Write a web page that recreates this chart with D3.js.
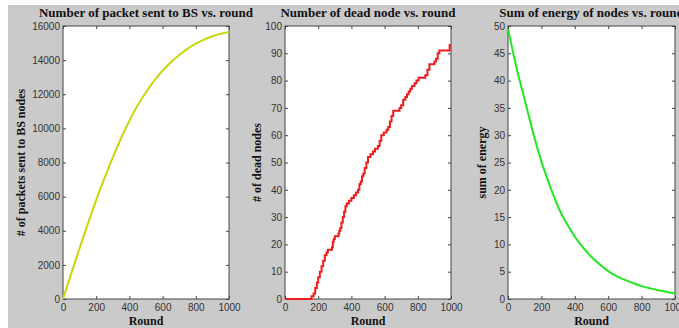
<!DOCTYPE html>
<html>
<head>
<meta charset="utf-8">
<script src="https://cdn.jsdelivr.net/npm/d3@7"></script>
<style>
  body { margin: 0; background: #fff; }
  .tick text { font-family: "Liberation Sans", Arial, sans-serif; font-size: 10px; fill: #333; }
  .domain { display: none; }
  .tick line { stroke: #444; }
  .ttl, .lbl { font-family: "Liberation Serif", serif; font-weight: bold; fill: #111; }
</style>
</head>
<body>
<div id="chart"></div>
<script>
// rounds sampled for the two smooth curves
var rounds = [0, 50, 100, 150, 200, 250, 300, 350, 400, 450, 500,
              550, 600, 650, 700, 750, 800, 850, 900, 950, 1000];

var packets = [0, 1500, 2980, 4420, 5800, 7080, 8300, 9420, 10450, 11350, 12120,
               12800, 13380, 13880, 14300, 14660, 14960, 15200, 15400, 15550, 15650];

var energy = [49.5, 42.5, 36.5, 30.5, 25.2, 20.8, 16.9, 13.9, 11.4, 9.4, 7.7,
              6.3, 5.1, 4.2, 3.5, 2.9, 2.35, 1.95, 1.6, 1.3, 1.0];

// dead nodes is a staircase: round where count changes, and the new count
var deadRounds = [0, 160, 172, 182, 192, 200, 210, 220, 230, 240, 250, 258, 283, 288, 294,
                  300, 322, 327, 333, 340, 348, 356, 364, 372, 385, 400, 415, 428, 440, 448,
                  456, 464, 472, 480, 490, 500, 515, 530, 542, 560, 570, 580, 595, 612, 622,
                  632, 642, 652, 690, 700, 712, 725, 735, 745, 755, 765, 780, 792, 805, 845,
                  858, 870, 900, 910, 920, 930, 992, 1000];
var deadNodes  = [0, 1, 2, 4, 6, 8, 10, 12, 14, 16, 17, 18, 19, 21, 22,
                  23, 24, 25, 26, 28, 30, 32, 34, 35, 36, 37, 38, 39, 40, 42,
                  43, 45, 46, 48, 50, 52, 53, 54, 55, 56, 58, 60, 61, 62, 63,
                  65, 67, 69, 70, 71, 73, 74, 75, 76, 77, 78, 79, 80, 81, 82,
                  84, 86, 87, 88, 90, 91, 93, 93];

var xTicks = [0, 200, 400, 600, 800, 1000];

var W = 679, H = 328;
var svg = d3.select("#chart").append("svg")
    .attr("width", W)
    .attr("height", H);

svg.append("rect")
    .attr("x", 8).attr("y", 5)
    .attr("width", W - 8).attr("height", H - 5)
    .attr("fill", "#cacaca");

function panel(left, right, yMax, yStep, title, ylab, ylabX) {
  var top = 26, bottom = 299;
  var x = d3.scaleLinear().domain([0, 1000]).range([left, right]);
  var y = d3.scaleLinear().domain([0, yMax]).range([bottom, top]);
  var yTicks = d3.range(0, yMax + yStep / 2, yStep);

  svg.append("rect")
      .attr("x", left).attr("y", top)
      .attr("width", right - left).attr("height", bottom - top)
      .attr("fill", "#fff")
      .attr("stroke", "#444")
      .attr("stroke-width", 1);

  svg.append("g")
      .attr("transform", "translate(0," + bottom + ")")
      .call(d3.axisBottom(x).tickValues(xTicks).tickSize(-3).tickPadding(5)
        .tickFormat(d3.format("d")));
  svg.append("g")
      .attr("transform", "translate(0," + top + ")")
      .call(d3.axisTop(x).tickValues(xTicks).tickSize(-3).tickFormat(""));
  svg.append("g")
      .attr("transform", "translate(" + left + ",0)")
      .call(d3.axisLeft(y).tickValues(yTicks).tickSize(-3).tickPadding(3)
        .tickFormat(d3.format("d")));
  svg.append("g")
      .attr("transform", "translate(" + right + ",0)")
      .call(d3.axisRight(y).tickValues(yTicks).tickSize(-3).tickFormat(""));

  svg.append("text").attr("class", "ttl")
      .attr("x", (left + right) / 2).attr("y", 17)
      .attr("text-anchor", "middle")
      .style("font-size", "13px")
      .text(title);

  svg.append("text").attr("class", "lbl")
      .attr("x", (left + right) / 2).attr("y", 325)
      .attr("text-anchor", "middle")
      .style("font-size", "12px")
      .text("Round");

  svg.append("text").attr("class", "lbl")
      .attr("transform", "translate(" + ylabX + "," + ((top + bottom) / 2) + ")rotate(-90)")
      .attr("text-anchor", "middle")
      .style("font-size", "12px")
      .text(ylab);

  return {x: x, y: y};
}

var p1 = panel(63, 229, 16000, 2000, "Number of packet sent to BS vs. round",
               "# of packets sent to BS nodes", 25);
svg.append("path")
    .datum(rounds)
    .attr("fill", "none")
    .attr("stroke", "#c9d60a")
    .attr("stroke-width", 2)
    .attr("d", d3.line()
      .x(function(d) { return p1.x(d); })
      .y(function(d, i) { return p1.y(packets[i]); })
      .curve(d3.curveNatural));

var p2 = panel(285, 451, 100, 10, "Number of dead node vs. round",
               "# of dead nodes", 261);
svg.append("path")
    .datum(deadRounds)
    .attr("fill", "none")
    .attr("stroke", "#ee1c1c")
    .attr("stroke-width", 2)
    .attr("d", d3.line()
      .x(function(d) { return p2.x(d); })
      .y(function(d, i) { return p2.y(deadNodes[i]); })
      .curve(d3.curveStepAfter));

var p3 = panel(508, 675, 50, 5, "Sum of energy of nodes vs. round",
               "sum of energy", 486);
svg.append("path")
    .datum(rounds)
    .attr("fill", "none")
    .attr("stroke", "#22e622")
    .attr("stroke-width", 2)
    .attr("d", d3.line()
      .x(function(d) { return p3.x(d); })
      .y(function(d, i) { return p3.y(energy[i]); })
      .curve(d3.curveNatural));
</script>
</body>
</html>
